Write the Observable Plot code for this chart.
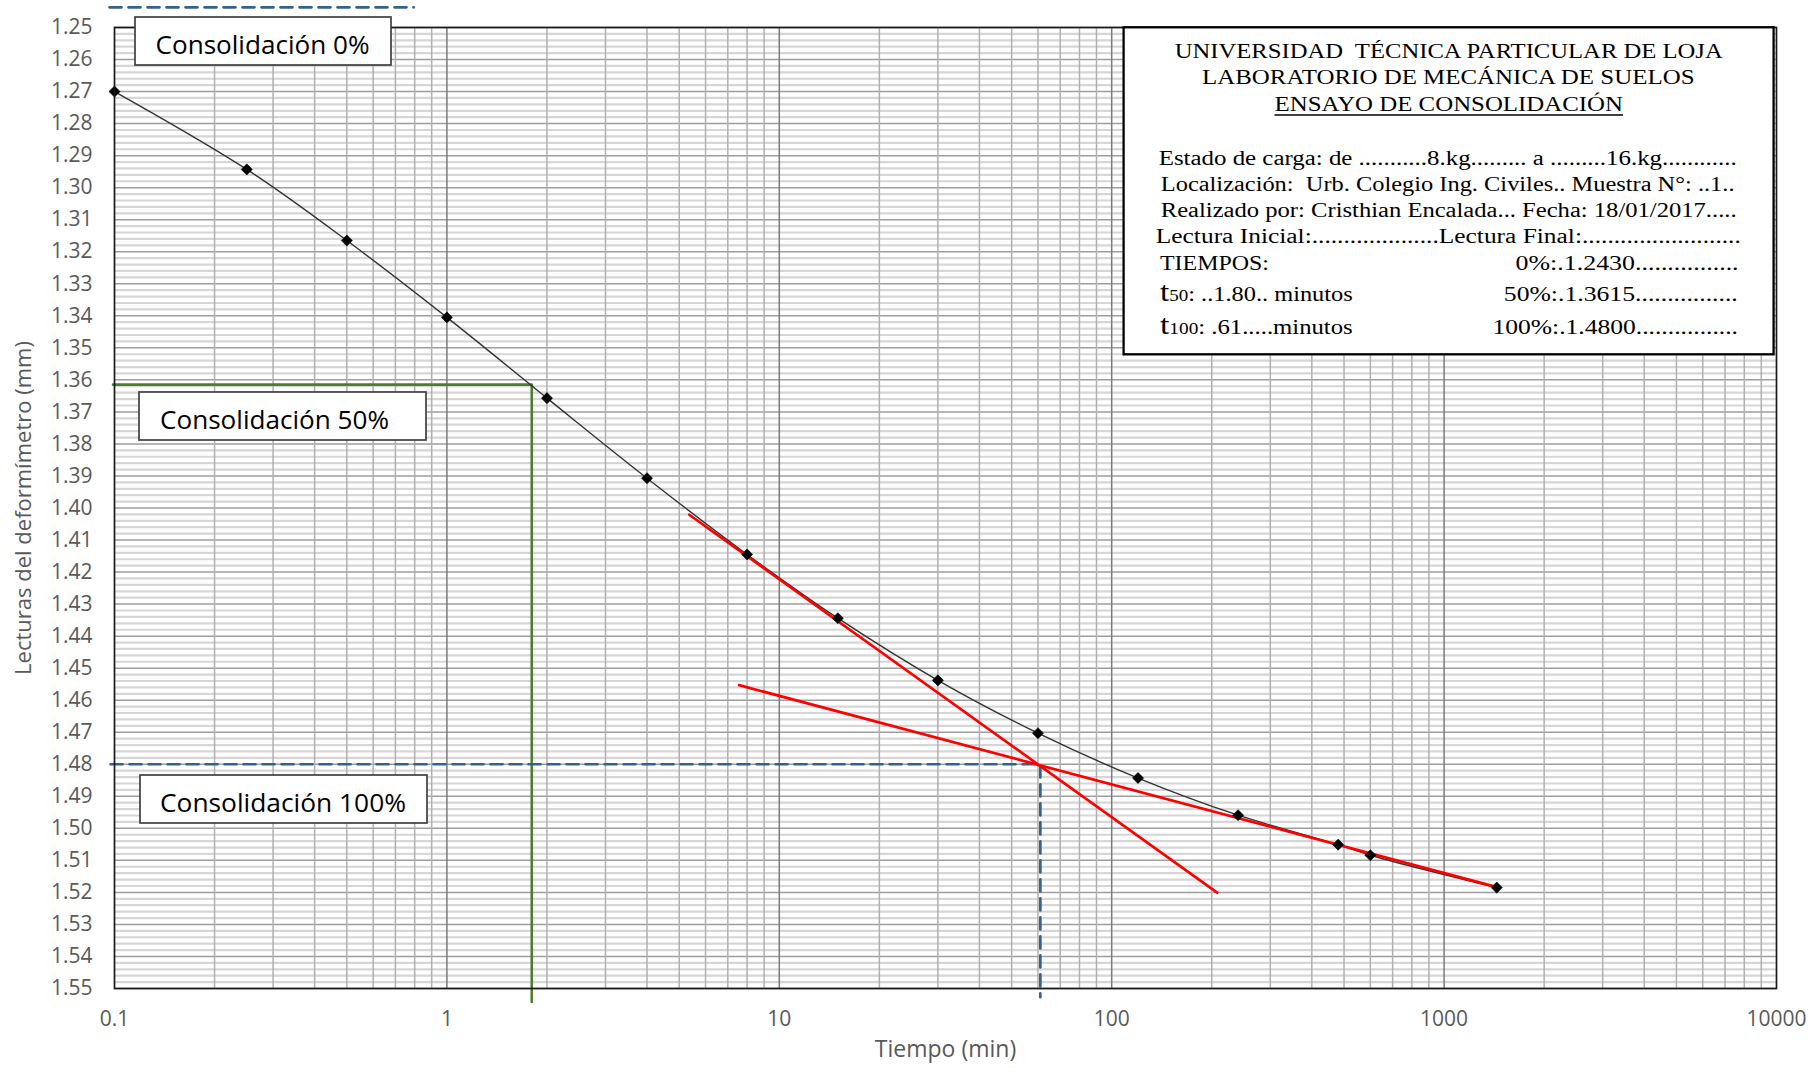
<!DOCTYPE html>
<html>
<head>
<meta charset="utf-8">
<script src="https://cdn.jsdelivr.net/npm/d3@7"></script>
<script src="https://cdn.jsdelivr.net/npm/@observablehq/plot@0.6"></script>
<style>
  html, body { margin: 0; padding: 0; background: #fff; }
  #chart svg { display: block; }
</style>
</head>
<body>
<div id="chart"></div>
<script>
// ---------- data ----------
const tiempos  = [0.1, 0.25, 0.5, 1, 2, 4, 8, 15, 30, 60, 120, 240, 480, 600, 1440];
const lecturas = [1.2700, 1.2943, 1.3165, 1.3405, 1.3657, 1.3907, 1.4145, 1.4344, 1.4538, 1.4703, 1.4843, 1.4959, 1.5051, 1.5084, 1.5185];

// tangent lines (Casagrande construction)
const tangente1T = [5.36, 207.6];
const tangente1D = [1.4021, 1.5201];
const tangente2T = [7.57, 1460];
const tangente2D = [1.4553, 1.5185];

// consolidation references
const lectura0   = 1.2437;
const tramo0T    = [0.0966, 0.795];
const t50 = 1.80, d50 = 1.3615, d50Fin = 1.5542, t50Inicio = 0.099;
const t100 = 61, d100 = 1.48, d100Fin = 1.5527, t100Inicio = 0.0973;

// tick labels
const ticksX = [0.1, 1, 10, 100, 1000, 10000];
const ticksY = d3.range(125, 156).map(m => m / 100);
const gridYMenor = d3.range(1250, 1552, 2).filter(m => m % 10 !== 0).map(m => m / 1000);
const gridXMenor = [-1, 0, 1, 2, 3].flatMap(n => [2, 3, 4, 5, 6, 7, 8, 9].map(k => +(k * Math.pow(10, n)).toPrecision(6)));
const gridXMayor = [1, 10, 100, 1000];

const tituloX = "Tiempo (min)";
const tituloY = "Lecturas del deformímetro (mm)";
const etiquetas = ["Consolidación 0%", "Consolidación 50%", "Consolidación 100%"];

const puntos = tiempos.map((t, i) => ({t, d: lecturas[i]}));

// ---------- chart ----------
const gris = "#595959";
const azul = "#35618f";
const verde = "#4e7d31";

const chart = Plot.plot({
  width: 1820,
  height: 1072,
  marginLeft: 114,
  marginRight: 44,
  marginTop: 27,
  marginBottom: 84,
  style: {fontFamily: "'Open Sans', sans-serif", fontSize: "21px", color: gris, background: "#fff", overflow: "visible"},
  x: {type: "log", domain: [0.1, 10000], label: null},
  y: {domain: [1.25, 1.55], reverse: true, label: null},
  marks: [
    Plot.ruleY(gridYMenor, {stroke: "#d6d6d6", strokeWidth: 2.2}),
    Plot.ruleY(ticksY, {stroke: "#9e9e9e", strokeWidth: 1.5}),
    Plot.ruleX(gridXMenor, {stroke: "#b0b0b0", strokeWidth: 1.5}),
    Plot.ruleX(gridXMayor, {stroke: "#7a7a7a", strokeWidth: 1.5}),
    Plot.axisY({ticks: ticksY, tickFormat: d3.format(".2f"), tickSize: 0, tickPadding: 22, fontSize: 21, label: null}),
    Plot.axisX({ticks: ticksX, tickFormat: d => String(d), tickSize: 0, tickPadding: 23, fontSize: 21, label: null}),
    // green 50% construction
    Plot.line({length: 3}, {x: [t50Inicio, t50, t50], y: [d50, d50, d50Fin], stroke: verde, strokeWidth: 2.6}),
    // blue dashed 100% and 0% references
    Plot.line({length: 3}, {x: [t100Inicio, t100, t100], y: [d100, d100, d100Fin], stroke: azul, strokeWidth: 2.7, strokeDasharray: "12,7"}),
    Plot.line({length: 2}, {x: tramo0T, y: [lectura0, lectura0], stroke: azul, strokeWidth: 2.7, strokeDasharray: "12,7"}),
    // data curve
    Plot.line(puntos, {x: "t", y: "d", curve: "catmull-rom", stroke: "#333", strokeWidth: 1.4}),
    // tangent lines
    Plot.line({length: 2}, {x: tangente1T, y: tangente1D, stroke: "#ff0000", strokeWidth: 2.7}),
    Plot.line({length: 2}, {x: tangente2T, y: tangente2D, stroke: "#ff0000", strokeWidth: 2.7}),
    Plot.dot(puntos, {x: "t", y: "d", symbol: "diamond2", r: 5, fill: "#000", stroke: "#000", strokeWidth: 0.6}),
    Plot.frame({stroke: "#1a1a1a", strokeWidth: 1.7}),
    Plot.text([tituloX], {frameAnchor: "bottom", dy: 68, fontSize: 23, fill: gris, textAnchor: "middle"}),
    Plot.text([tituloY], {frameAnchor: "left", dx: -91, rotate: -90, fontSize: 22, fill: gris, textAnchor: "middle"})
  ]
});
document.getElementById("chart").append(chart);

// ---------- annotation boxes ----------
const svg = d3.select(chart);
const layer = svg.append("g").attr("text-anchor", "start");

const cajas = [
  {x: 135, y: 17,  w: 256, h: 48, tx: 155.5, ty: 53.5,  tw: 214, texto: etiquetas[0]},
  {x: 139, y: 392, w: 287, h: 48, tx: 160,   ty: 428.5, tw: 229, texto: etiquetas[1]},
  {x: 140, y: 775, w: 287, h: 48, tx: 160,   ty: 812,   tw: 246, texto: etiquetas[2]}
];
cajas.forEach(c => {
  layer.append("rect").attr("x", c.x).attr("y", c.y).attr("width", c.w).attr("height", c.h)
    .attr("fill", "#fff").attr("stroke", "#404040").attr("stroke-width", 1.7);
  layer.append("text").attr("x", c.tx).attr("y", c.ty).attr("text-anchor", "start")
    .attr("font-family", "'Open Sans', sans-serif").attr("font-size", 26).attr("fill", "#000")
    .attr("textLength", c.tw).attr("lengthAdjust", "spacingAndGlyphs").text(c.texto);
});

// info box
const info = layer.append("g").attr("font-family", "'Liberation Serif', 'Times New Roman', serif")
  .attr("fill", "#000").attr("text-anchor", "start").style("white-space", "pre");
info.append("rect").attr("x", 1123.6).attr("y", 27.3).attr("width", 650).attr("height", 327)
  .attr("fill", "#fff").attr("stroke", "#000").attr("stroke-width", 2.3);

const lineas = [
  {x: 1174.7, y: 57.5,  w: 548,   fs: 21, parts: [["UNIVERSIDAD  TÉCNICA PARTICULAR DE LOJA"]]},
  {x: 1202,   y: 84,    w: 492.5, fs: 21, parts: [["LABORATORIO DE MECÁNICA DE SUELOS"]]},
  {x: 1274.5, y: 110.5, w: 348.5, fs: 21, parts: [["ENSAYO DE CONSOLIDACIÓN"]], underline: true},
  {x: 1158.7, y: 164.5, w: 578,   fs: 20.5, parts: [["Estado de carga: de ...........8.kg......... a .........16.kg............"]]},
  {x: 1160.8, y: 190.5, w: 573.7, fs: 20.5, parts: [["Localización:  Urb. Colegio Ing. Civiles.. Muestra N°: ..1.."]]},
  {x: 1160.8, y: 217,   w: 575.8, fs: 20.5, parts: [["Realizado por: Cristhian Encalada... Fecha: 18/01/2017....."]]},
  {x: 1155.8, y: 243,   w: 585,   fs: 20.5, parts: [["Lectura Inicial:....................Lectura Final:........................."]]},
  {x: 1160,   y: 270,   w: 109,   fs: 20.5, parts: [["TIEMPOS:"]]},
  {x: 1515.6, y: 270,   w: 223,   fs: 20.5, parts: [["0%:.1.2430................"]]},
  {x: 1160,   y: 301,   w: 192.7, fs: 20.5, parts: [["t", 28], ["50", 16], [": ..1.80.. minutos"]]},
  {x: 1503.8, y: 301,   w: 234,   fs: 20.5, parts: [["50%:.1.3615................"]]},
  {x: 1160,   y: 333.5, w: 192.7, fs: 20.5, parts: [["t", 28], ["100", 16], [": .61.....minutos"]]},
  {x: 1492.5, y: 333.5, w: 245.5, fs: 20.5, parts: [["100%:.1.4800................"]]}
];
lineas.forEach(l => {
  const t = info.append("text").attr("x", l.x).attr("y", l.y).attr("font-size", l.fs).attr("text-anchor", "start")
    .attr("textLength", l.w).attr("lengthAdjust", "spacingAndGlyphs");
  l.parts.forEach(p => {
    const s = t.append("tspan").text(p[0]);
    if (p[1]) s.attr("font-size", p[1]);
  });
  if (l.underline) {
    info.append("line").attr("x1", l.x).attr("x2", l.x + l.w).attr("y1", l.y + 4.5).attr("y2", l.y + 4.5)
      .attr("stroke", "#000").attr("stroke-width", 1.3);
  }
});
</script>
</body>
</html>
